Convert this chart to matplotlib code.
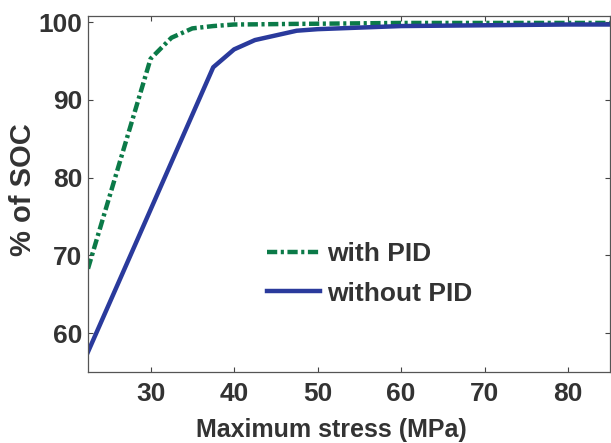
import matplotlib.pyplot as plt

# data
stress = [22.5, 25, 27.5, 30, 32.5, 35, 37.5, 40, 42.5, 45, 47.5, 50, 55, 60, 70, 80, 85]
with_pid = [68.3, 77.3, 86.3, 95.3, 98.0, 99.2, 99.5, 99.7, 99.72, 99.75, 99.78, 99.8, 99.85, 99.9, 99.9, 99.9, 99.9]
without_pid = [57.6, 63.7, 69.8, 75.9, 82.0, 88.1, 94.2, 96.5, 97.7, 98.3, 98.9, 99.1, 99.3, 99.5, 99.6, 99.7, 99.7]

xticks = [30, 40, 50, 60, 70, 80]
yticks = [60, 70, 80, 90, 100]

txt = '#333333'
plt.rcParams['font.family'] = ['Liberation Sans', 'DejaVu Sans']
plt.rcParams['font.weight'] = 'bold'

fig = plt.figure(figsize=(6.11, 4.43), dpi=100)
ax = fig.add_axes([0.144, 0.160, 0.854, 0.804])

ax.plot(stress, with_pid, color='#0b7a48', lw=3.2, ls=(0, (2.3, 0.8, 0.7, 0.8)), label='with PID')
ax.plot(stress, without_pid, color='#2a3a9c', lw=3.2, label='without PID')

ax.set_xlim(22.5, 85)
ax.set_ylim(55, 100.8)
ax.set_xticks(xticks)
ax.set_yticks(yticks)
ax.tick_params(direction='in', length=3.6, width=0.8, top=True, right=True,
               labelsize=19, labelcolor=txt, color='#444444')
ax.tick_params(axis='x', pad=7)
ax.tick_params(axis='y', pad=4)
for lbl in ax.get_xticklabels() + ax.get_yticklabels():
    lbl.set_fontweight('bold')
for s in ax.spines.values():
    s.set_color('#555555')
    s.set_linewidth(0.9)

ax.set_xlabel('Maximum stress (MPa)', fontsize=18, fontweight='bold', color=txt, va='center')
ax.xaxis.set_label_coords(0.467, -0.162)
ax.set_ylabel('% of SOC', fontsize=21, fontweight='bold', color=txt, va='center')
ax.yaxis.set_label_coords(-0.124, 0.511)

leg = ax.legend(loc='upper left', bbox_to_anchor=(0.343, 0.366), frameon=False,
                prop={'size': 19, 'weight': 'bold'}, handlelength=2.0,
                handletextpad=0.26, labelspacing=0.6, borderpad=0, borderaxespad=0)
for t in leg.get_texts():
    t.set_color(txt)

fig.savefig('out.png', dpi=100)
